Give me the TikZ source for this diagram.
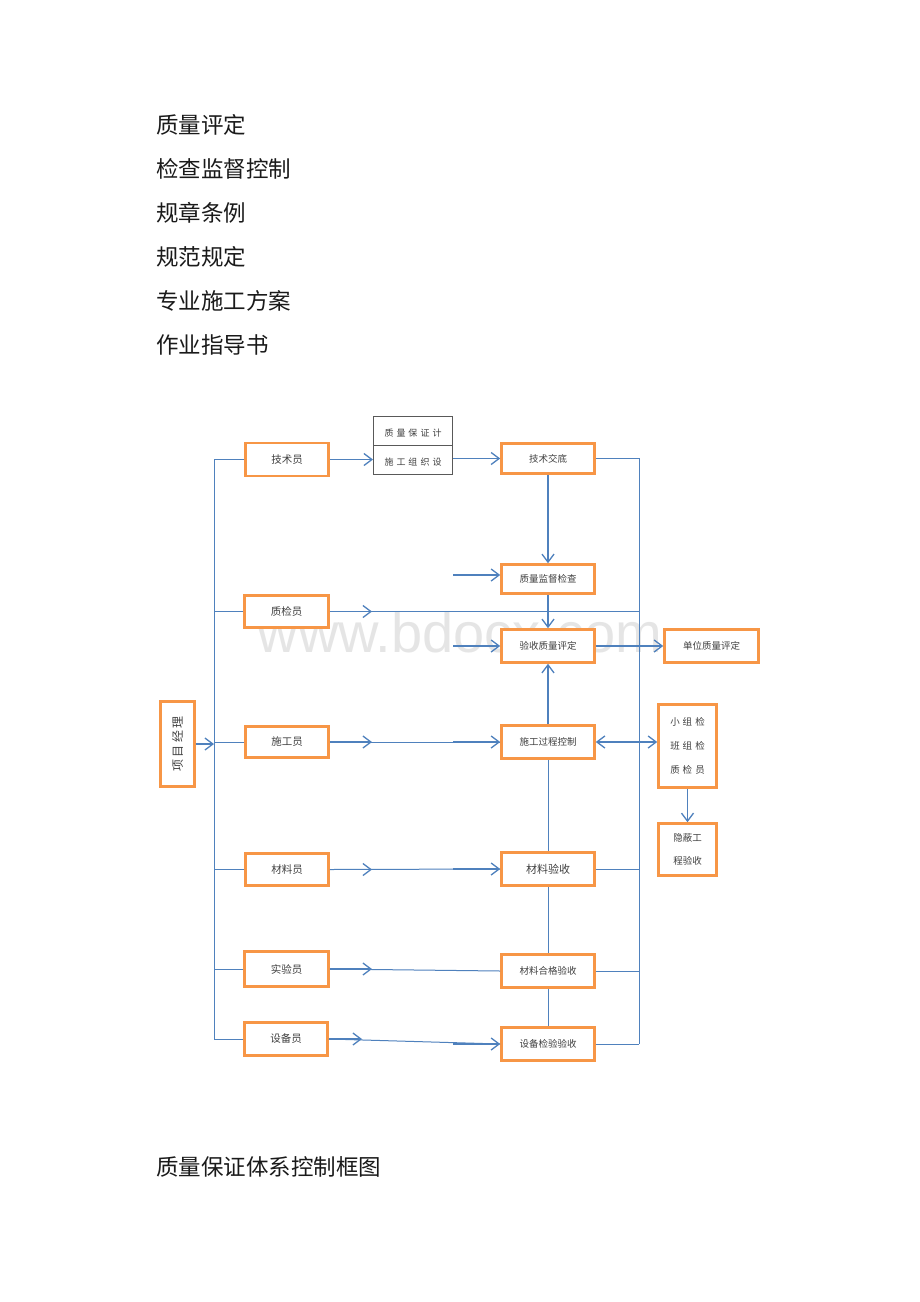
\documentclass[tikz,border=0pt]{standalone}
\usepackage{fontspec}
\newfontfamily\cjk{Noto Sans CJK SC}
\newfontfamily\wmfont{Liberation Sans}
\usetikzlibrary{arrows.meta}
\definecolor{boxor}{HTML}{F79646}
\definecolor{lnblue}{HTML}{4F81BD}
\definecolor{txt}{HTML}{404040}
\definecolor{hdr}{HTML}{1A1A1A}
\definecolor{gbord}{HTML}{595959}
\begin{document}
\begin{tikzpicture}[x=1pt,y=-1pt,
  hdrtxt/.style={anchor=west, inner sep=0pt, text=hdr, font=\cjk\fontsize{22.5}{26}\selectfont},
  ob/.style={draw=boxor, line width=2.6pt, fill=white, inner sep=0pt, text=txt, align=center, font=\cjk\fontsize{10.5}{12}\selectfont},
  sm/.style={font=\cjk\fontsize{9.5}{11}\selectfont},
  sz/.style 2 args={minimum width=#1pt, minimum height=#2pt},
  ln/.style={draw=lnblue, line width=1pt},
  arr/.style={draw=lnblue, line width=1.5pt, -{Straight Barb[length=8pt,width=12pt,line width=1.3pt]}},
  dar/.style={draw=lnblue, line width=1.5pt, {Straight Barb[length=8pt,width=12pt,line width=1.3pt]}-{Straight Barb[length=8pt,width=12pt,line width=1.3pt]}}
]
\useasboundingbox[fill=white] (0,0) rectangle (920,1302);

% header texts
\node[hdrtxt] (h1) at (156,125) {质量评定};
\node[hdrtxt] (h2) at (156,169) {检查监督控制};
\node[hdrtxt] (h3) at (156,213) {规章条例};
\node[hdrtxt] (h4) at (156,257) {规范规定};
\node[hdrtxt] (h5) at (156,301) {专业施工方案};
\node[hdrtxt] (h6) at (156,345) {作业指导书};
\node[hdrtxt] (cap) at (156,1167) {质量保证体系控制框图};

% watermark (behind the boxes)
\node[text=gray, text opacity=0.2, inner sep=0pt, font=\wmfont\fontsize{56}{60}\selectfont] (wm) at (460,632) {www.bdocx.com};

% coordinates
\coordinate (lb) at (214,459);
\coordinate (rb) at (639,458);
\coordinate (mx) at (372,0);
\coordinate (mx2) at (362,0);
\coordinate (a1) at (453,575);
\coordinate (a2) at (453,646);

% left column boxes
\node[ob, sz={83}{33}] (js) at (287,459.5) {技术员};
\node[ob, sz={84}{32}] (zj) at (286.5,611.5) {质检员};
\node[ob, sz={83}{31}] (sg) at (287,742) {施工员};
\node[ob, sz={83}{32}] (cl) at (287,869.5) {材料员};
\node[ob, sz={84}{35}] (sy) at (286.5,969) {实验员};
\node[ob, sz={83}{33}] (sb) at (286,1039) {设备员};
\node[ob, sz={34}{85}, font=\cjk\fontsize{12}{14}\selectfont] (pm) at (177.5,744) {\rotatebox{90}{项\hspace{2.5pt}目\hspace{2.5pt}经\hspace{2.5pt}理}};

% plan box
\node[draw=gbord, line width=1pt, fill=white, sz={79}{58}, inner sep=0pt] (qp) at (413,445.5) {};
\draw[draw=gbord, line width=1pt] (qp.west) -- (qp.east);
\node[text=txt, inner sep=0pt, font=\cjk\fontsize{9}{10}\selectfont] (qpt) at (413,433) {质\hspace{3pt}量\hspace{3pt}保\hspace{3pt}证\hspace{3pt}计};
\node[text=txt, inner sep=0pt, font=\cjk\fontsize{9}{10}\selectfont] (qpb) at (413,462) {施\hspace{3pt}工\hspace{3pt}组\hspace{3pt}织\hspace{3pt}设};

% middle column boxes
\node[ob, sm, sz={93}{30}] (jd) at (548,458.5) {技术交底};
\node[ob, sm, sz={93}{29}] (jc) at (548,579) {质量监督检查};
\node[ob, sm, sz={93}{33}] (ys) at (548,646) {验收质量评定};
\node[ob, sm, sz={94}{33}] (dw) at (711.5,646) {单位质量评定};
\node[ob, sm, sz={93}{33}] (gc) at (548,742) {施工过程控制};
\node[ob, sz={93}{33}, font=\cjk\fontsize{11}{12}\selectfont] (clys) at (548,869) {材料验收};
\node[ob, sm, sz={93}{33}] (hg) at (548,971) {材料合格验收};
\node[ob, sm, sz={93}{33}] (sbys) at (548,1044) {设备检验验收};

% right boxes
\node[ob, sz={58}{83}, font=\cjk\fontsize{9.5}{24}\selectfont] (xz) at (687.5,746) {小\hspace{3pt}组\hspace{3pt}检\\班\hspace{3pt}组\hspace{3pt}检\\质\hspace{3pt}检\hspace{3pt}员};
\node[ob, sz={58}{52}, font=\cjk\fontsize{9.5}{23}\selectfont] (yb) at (687.5,849.5) {隐蔽工\\程验收};

% left bus
\draw[ln] (lb) -- (lb |- sb.west);
\draw[ln] (js.west) -- (js.west -| lb);
\draw[ln] (zj.west) -- (zj.west -| lb);
\draw[ln] (sg.west) -- (sg.west -| lb);
\draw[ln] (cl.west) -- (cl.west -| lb);
\draw[ln] (sy.west) -- (sy.west -| lb);
\draw[ln] (sb.west) -- (sb.west -| lb);
\draw[arr] (pm.east) -- (pm.east -| lb);

% top chain
\draw[arr] (js.east) -- (js.east -| qp.west);
\draw[arr] (jd.west -| qp.east) -- (jd.west);
\draw[ln] (jd.east) -- (jd.east -| rb);
\draw[ln] (rb) -- (rb |- sbys.east);
\draw[arr] (jd.south) -- (jc.north);
\draw[arr] (a1) -- (a1 -| jc.west);
\draw[arr] (jc.south) -- (ys.north);
\draw[arr] (a2) -- (a2 -| ys.west);
\draw[arr] (ys.east) -- (ys.east -| dw.west);
\draw[arr] (gc.north) -- (ys.south);

% quality inspector line
\draw[ln] (zj.east) -- (zj.east -| rb);
\draw[arr] (zj.east) -- (zj.east -| mx);

% construction
\draw[ln] (sg.east) -- (gc.west);
\draw[arr] (sg.east) -- (sg.east -| mx);
\draw[arr] (gc.west -| a1) -- (gc.west);
\draw[dar] (gc.east) -- (gc.east -| xz.west);
\draw[arr] (xz.south) -- (yb.north);

% vertical middle links
\draw[ln] (gc.south) -- (clys.north);
\draw[ln] (clys.south) -- (hg.north);
\draw[ln] (hg.south) -- (sbys.north);

% materials
\draw[ln] (cl.east) -- (clys.west);
\draw[arr] (cl.east) -- (cl.east -| mx);
\draw[arr] (clys.west -| a1) -- (clys.west);
\draw[ln] (clys.east) -- (clys.east -| rb);

% test
\draw[ln] (sy.east) -- (hg.west);
\draw[arr] (sy.east) -- (sy.east -| mx);
\draw[ln] (hg.east) -- (hg.east -| rb);

% equipment
\draw[ln] (sb.east) -- (sbys.west);
\draw[arr] (sb.east) -- (sb.east -| mx2);
\draw[arr] (sbys.west -| a1) -- (sbys.west);
\draw[ln] (sbys.east) -- (sbys.east -| rb);
\end{tikzpicture}
\end{document}
